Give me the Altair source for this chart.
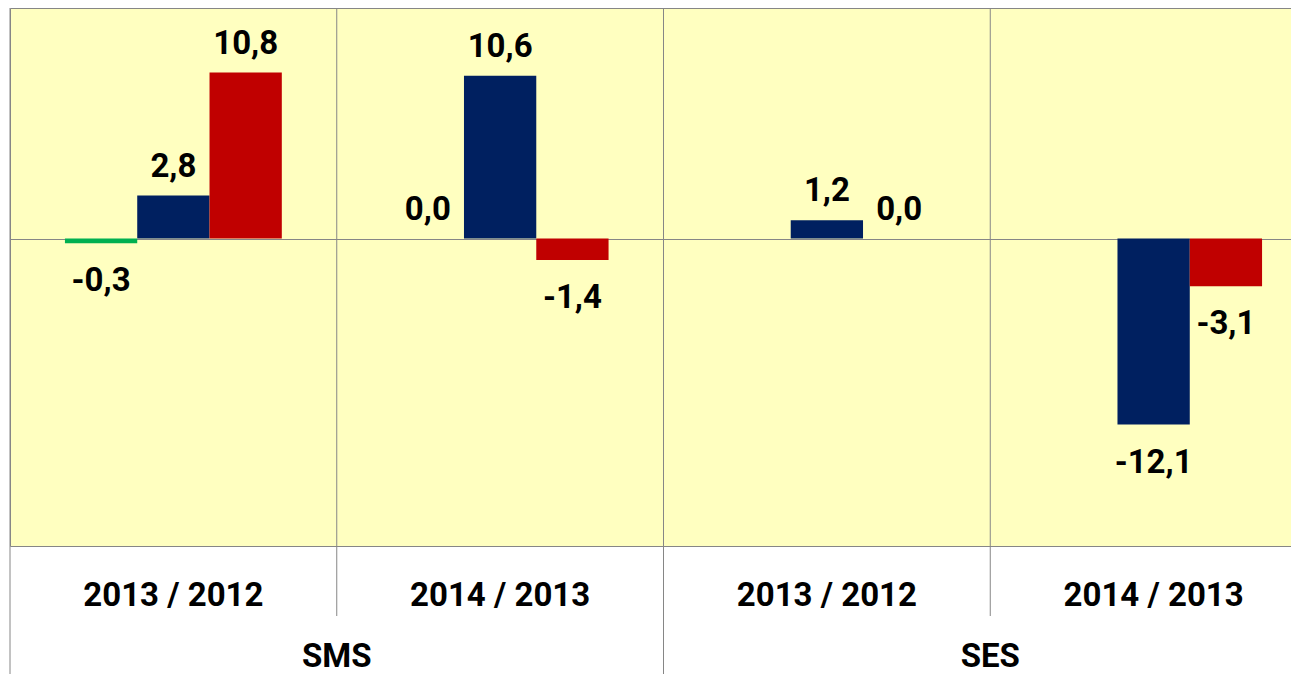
import altair as alt
import pandas as pd

# ---- data ----
groups = ["SMS", "SMS", "SES", "SES"]
periods = ["2013 / 2012", "2014 / 2013", "2013 / 2012", "2014 / 2013"]
series = ["Série 1", "Série 2", "Série 3"]
colors = ["#00B050", "#002060", "#C00000"]
s1 = [-0.3, 0.0, None, None]
s2 = [2.8, 10.6, 1.2, -12.1]
s3 = [10.8, -1.4, 0.0, -3.1]

keys = [f"{g}|{p}" for g, p in zip(groups, periods)]
rows = []
for name, vals in zip(series, [s1, s2, s3]):
    for k, v in zip(keys, vals):
        if v is not None:
            rows.append({"key": k, "series": name, "value": v})
df = pd.DataFrame(rows)

group_df = pd.DataFrame({"key": [keys[1], keys[3]], "group": ["SMS", "SES"]})
long_df = pd.DataFrame({"key": [keys[0], keys[2]]})
short_df = pd.DataFrame({"key": [keys[1], keys[3]]})
grid_df = pd.DataFrame({"key": keys})

FONT = "Roboto"
FS = 33
GRID = "#868686"

x_scale = alt.Scale(domain=keys, range=[0, 1307], paddingInner=0, paddingOuter=0)
y_scale = alt.Scale(domain=[-20, 15], nice=False)

x_enc = alt.X(
    "key:N",
    scale=x_scale,
    title=None,
    axis=alt.Axis(
        labelExpr="split(datum.label, '|')[1]",
        labelFont=FONT,
        labelFontSize=FS,
        labelFontWeight="bold",
        labelColor="black",
        labelAngle=0,
        labelAlign="center",
        labelLimit=0,
        labelPadding=33,
        bandPosition=0.5,
        ticks=False,
        tickSize=0,
        domain=False,
        grid=False,
    ),
)
y_enc = alt.Y(
    "value:Q",
    scale=y_scale,
    title=None,
    axis=alt.Axis(values=[0], labels=False, ticks=False, domain=False,
                  grid=True, gridColor=GRID, gridWidth=1, gridOpacity=1),
)
xoff = alt.XOffset("series:N", scale=alt.Scale(domain=series, paddingOuter=0.76, paddingInner=0))

base = alt.Chart(df).transform_calculate(
    label="replace(replace(format(datum.value, '.1f'), '.', ','), '\u2212', '-')"
)

bars = base.mark_bar().encode(
    x=x_enc,
    xOffset=xoff,
    y=y_enc,
    color=alt.Color("series:N", scale=alt.Scale(domain=series, range=colors), legend=None),
)

txt_style = dict(font=FONT, fontSize=FS, fontWeight="bold", color="black", baseline="middle")
pos_lbl = base.transform_filter("datum.value >= 0").mark_text(dy=-29, **txt_style).encode(
    x=alt.X("key:N", scale=x_scale), xOffset=xoff, y=alt.Y("value:Q", scale=y_scale), text="label:N"
)
neg_lbl = base.transform_filter("datum.value < 0").mark_text(dy=38, **txt_style).encode(
    x=alt.X("key:N", scale=x_scale), xOffset=xoff, y=alt.Y("value:Q", scale=y_scale), text="label:N"
)

grid_rules = alt.Chart(grid_df).mark_rule(color=GRID, strokeWidth=1).encode(
    x=alt.X("key:N", scale=x_scale, bandPosition=0)
)
long_rules = alt.Chart(long_df).mark_rule(color=GRID, strokeWidth=1).encode(
    x=alt.X("key:N", scale=x_scale, bandPosition=0),
    y=alt.value(538), y2=alt.value(670),
)
short_rules = alt.Chart(short_df).mark_rule(color=GRID, strokeWidth=1).encode(
    x=alt.X("key:N", scale=x_scale, bandPosition=0),
    y=alt.value(538), y2=alt.value(608),
)
group_lbl = alt.Chart(group_df).mark_text(**txt_style).encode(
    x=alt.X("key:N", scale=x_scale, bandPosition=0),
    y=alt.value(649),
    text="group:N",
)

chart = (
    alt.layer(bars, grid_rules, pos_lbl, neg_lbl, long_rules, short_rules, group_lbl)
    .properties(
        width=1281,
        height=538,
        autosize=alt.AutoSizeParams(type="none"),
        padding={"left": 2, "top": 0, "right": 0, "bottom": 128},
        background="white",
    )
    .configure_view(fill="#FFFFC0", stroke=GRID, strokeWidth=1)
)

chart.save("out.html", embed_options={"renderer": "svg", "actions": False})
